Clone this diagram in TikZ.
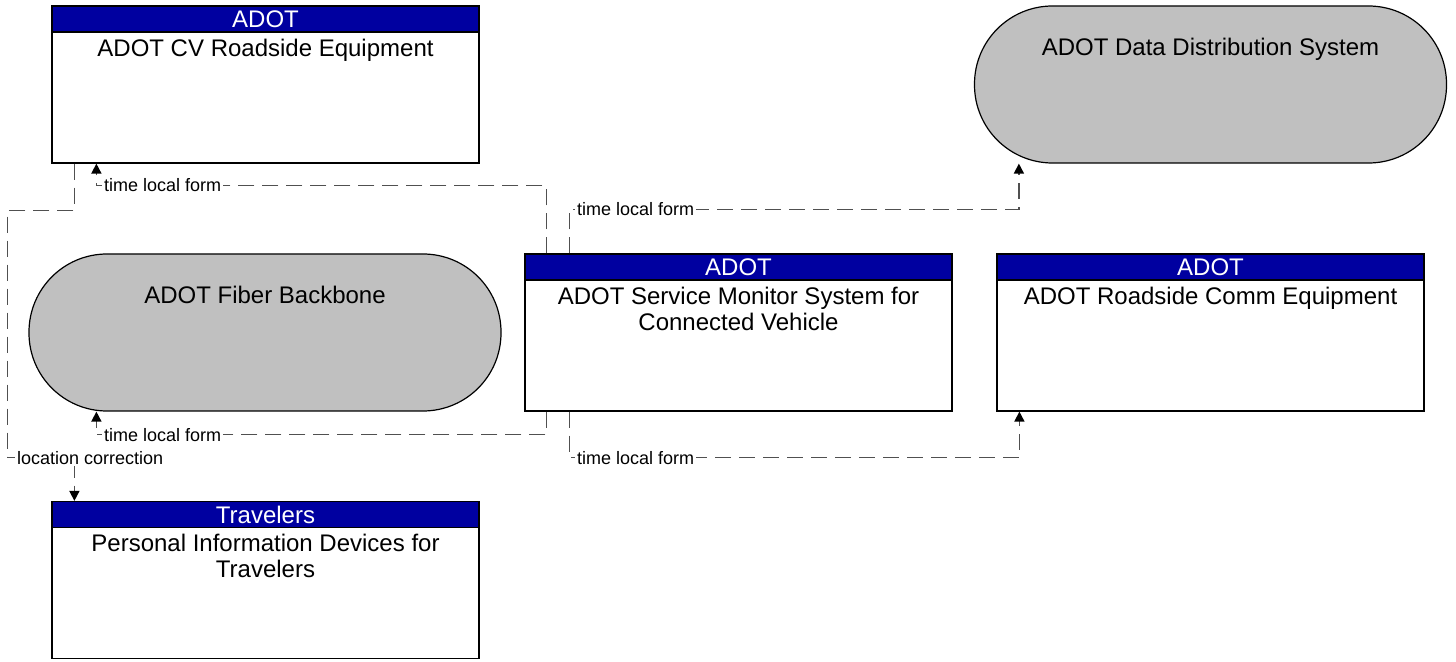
\documentclass[tikz,border=0pt]{standalone}
\usepackage{fontspec}
\setmainfont{Liberation Sans}
\usetikzlibrary{arrows.meta,positioning,calc}
\definecolor{hdrblue}{RGB}{0,0,160}
\definecolor{pillgray}{RGB}{192,192,192}
\definecolor{flowgray}{RGB}{80,80,80}

\begin{document}
\begin{tikzpicture}[
  x=0.5pt, y=-0.5pt,
  font=\fontsize{12}{13}\selectfont,
  sysbox/.style={
    rectangle, draw=black, line width=0.6pt,
    minimum width=213.5pt, minimum height=78.5pt, inner sep=0pt
  },
  pill/.style={
    rectangle, draw=black, line width=0.6pt, fill=pillgray, rounded corners=39pt,
    minimum width=236pt, minimum height=78.5pt, inner sep=0pt
  },
  hdr/.style={
    rectangle, draw=black, line width=0.6pt, fill=hdrblue, text=white,
    minimum width=213.5pt, minimum height=13pt, inner sep=0pt, anchor=north
  },
  body/.style={align=center, anchor=north, inner sep=3pt},
  flow/.style={draw=flowgray, line width=0.75pt, dash pattern=on 8pt off 4pt,
    -{Triangle[length=5pt,width=5pt,color=black]}},
  lbl/.style={font=\fontsize{9}{10}\selectfont, fill=white, inner sep=1pt, anchor=west},
]
\useasboundingbox (0,0) rectangle (1456,662);

% top row
\node[sysbox] (cv) at (265.5,84.5) {};
\node[hdr] (cvh) at (cv.north) {ADOT};
\node[body] (cvt) at (cvh.south) {ADOT CV Roadside Equipment};

\node[pill] (dds) at (1210.5,84.5) {};
\node[body] (ddst) at ($(dds.north)+(0,26)$) {ADOT Data Distribution System};

% middle row
\node[pill] (fiber) at (265,332.5) {};
\node[body] (fibert) at ($(fiber.north)+(0,26)$) {ADOT Fiber Backbone};

\node[sysbox] (sm) at (738.5,332.5) {};
\node[hdr] (smh) at (sm.north) {ADOT};
\node[body] (smt) at (smh.south) {ADOT Service Monitor System for\\Connected Vehicle};

\node[sysbox] (rce) at (1210.5,332.5) {};
\node[hdr] (rceh) at (rce.north) {ADOT};
\node[body] (rcet) at (rceh.south) {ADOT Roadside Comm Equipment};

% bottom row
\node[sysbox] (pid) at (265.5,580) {};
\node[hdr] (pidh) at (pid.north) {Travelers};
\node[body] (pidt) at (pidh.south) {Personal Information Devices for\\Travelers};

% flows out of the service monitor
\draw[flow] ($(sm.north west)+(22,0)$) -- ++(0,-68)
  -| node[lbl, pos=0.5, xshift=2.5pt] {time local form} ($(cv.south west)+(45,0)$);
\draw[flow] ($(sm.north west)+(45,0)$) -- ++(0,-44)
  node[lbl, xshift=2.5pt] {time local form} -| ($(dds.south west)+(45,0)$);
\draw[flow] ($(sm.south west)+(22,0)$) -- ++(0,23)
  -| node[lbl, pos=0.5, xshift=2.5pt] {time local form} ($(fiber.south west)+(68,0)$);
\draw[flow] ($(sm.south west)+(45,0)$) -- ++(0,46)
  node[lbl, xshift=2.5pt] {time local form} -| ($(rce.south west)+(23,0)$);

% roadside equipment to travelers
\draw[flow] ($(cv.south west)+(23,0)$) -- ++(0,47) -- ++(-67,0) -- ++(0,247)
  node[lbl, xshift=3.5pt] {location correction} -| ($(pid.north west)+(23,0)$);

\end{tikzpicture}
\end{document}
